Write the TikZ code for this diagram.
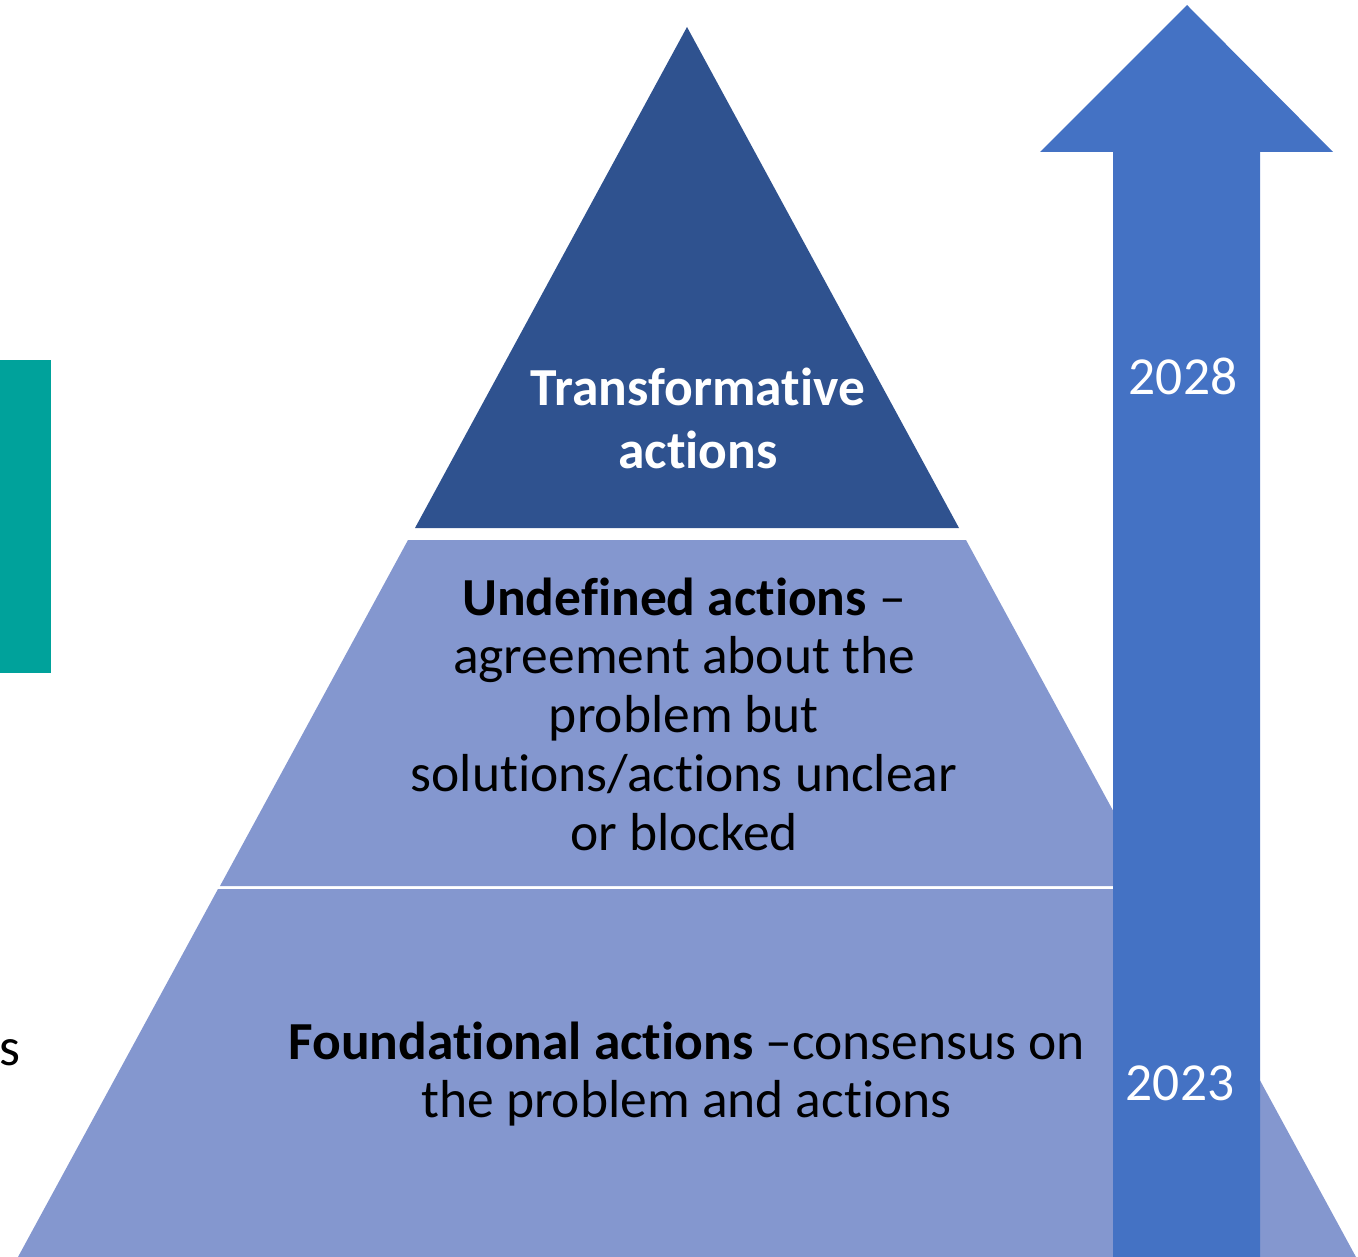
\documentclass[tikz,border=0pt]{standalone}
\usepackage{fontspec}
\setmainfont{Carlito}[Ligatures=NoCommon]
\definecolor{topblue}{HTML}{2F528F}
\definecolor{lightblue}{HTML}{8497CF}
\definecolor{arrowblue}{HTML}{4472C4}
\definecolor{teal}{HTML}{00A29B}
\begin{document}
\begin{tikzpicture}[x=1pt,y=-1pt,
  lbl/.style={inner sep=0, align=center, font=\fontsize{53.5}{58.7}\selectfont},
  toplbl/.style={inner sep=0, align=center, text=white, font=\fontsize{53.5}{63}\selectfont\bfseries},
  yearlbl/.style={inner sep=0, text=white, font=\fontsize{53.5}{64}\selectfont}]
\useasboundingbox (0,0) rectangle (1358,1257);
% teal bar
\fill[teal] (0,360) rectangle (51,673);
% pyramid
\fill[topblue] (687,27) -- (415,528) -- (959,528) -- cycle;
\fill[lightblue] (408,540) -- (966,540) -- (1154,886) -- (220,886) -- cycle;
\fill[lightblue] (218,889) -- (1156,889) -- (1356,1257) -- (18,1257) -- cycle;
% arrow
\fill[arrowblue] (1113,1257) -- (1113,152) -- (1040,152) -- (1187,5) -- (1333,152) -- (1260,152) -- (1260,1257) -- cycle;
% texts
\node[toplbl, anchor=north] (trans) at (698,361) {\strut Transformative\\actions};
\node[lbl, anchor=north] (undef) at (684,574) {\strut\textbf{Undefined actions} –\\agreement about the\\problem but\\solutions/actions unclear\\or blocked};
\node[lbl, anchor=north] (found) at (686.5,1018) {\strut\textbf{Foundational actions} –consensus on\\the problem and actions};
\node[yearlbl, anchor=base] (y28) at (1183,395) {2028};
\node[yearlbl, anchor=base] (y23) at (1180,1100) {2023};
\node[lbl, anchor=base east] (s) at (21,1065) {s};
\end{tikzpicture}
\end{document}
